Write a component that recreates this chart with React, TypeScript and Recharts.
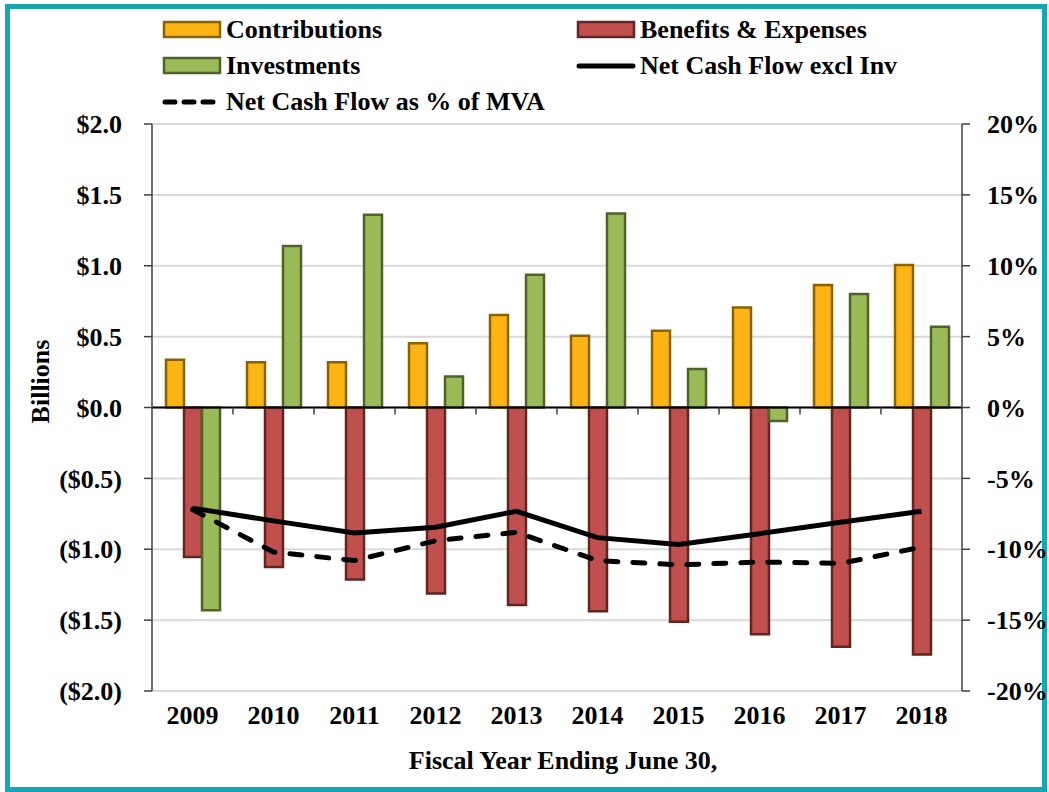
import {
  ComposedChart,
  Bar,
  Line,
  XAxis,
  YAxis,
  CartesianGrid,
  ReferenceLine,
  Legend
} from 'recharts'

const years = ['2009', '2010', '2011', '2012', '2013', '2014', '2015', '2016', '2017', '2018']
const contributions = [0.336, 0.319, 0.319, 0.453, 0.653, 0.507, 0.542, 0.706, 0.864, 1.005]
const benefits = [-1.054, -1.125, -1.213, -1.312, -1.394, -1.437, -1.512, -1.6, -1.688, -1.742]
const investments = [-1.43, 1.14, 1.36, 0.218, 0.937, 1.368, 0.272, -0.096, 0.8, 0.57]
const netCashFlow = [-0.71, -0.8, -0.885, -0.845, -0.732, -0.918, -0.967, -0.89, -0.81, -0.732]
const netCashFlowPct = [-7.2, -10.2, -10.8, -9.4, -8.8, -10.8, -11.1, -10.9, -11.0, -9.85]

const leftTicks = [-2, -1.5, -1, -0.5, 0, 0.5, 1, 1.5, 2]
const rightTicks = [-20, -15, -10, -5, 0, 5, 10, 15, 20]

const legendOrder = ['contributions', 'benefits', 'investments', 'net', 'pct']

const FONT = '"Liberation Serif", "Times New Roman", serif'

const data = years.map((year, i) => ({
  year,
  contributions: contributions[i],
  benefits: benefits[i],
  investments: investments[i],
  net: netCashFlow[i],
  pct: netCashFlowPct[i]
}))

const legendStyles: Record<string, { kind: 'bar' | 'solid' | 'dash'; fill?: string; stroke: string }> = {
  contributions: { kind: 'bar', fill: '#fdb515', stroke: '#8a6200' },
  benefits: { kind: 'bar', fill: '#c0504d', stroke: '#632523' },
  investments: { kind: 'bar', fill: '#9bbb59', stroke: '#4f6228' },
  net: { kind: 'solid', stroke: '#000' },
  pct: { kind: 'dash', stroke: '#000' }
}

function formatBillions(v: number): string {
  const s = `$${Math.abs(v).toFixed(1)}`
  return v < 0 ? `(${s})` : s
}

function LegendSwatch({ dataKey }: { dataKey: string }) {
  const st = legendStyles[dataKey]
  return (
    <svg width={60} height={20} style={{ display: 'block' }}>
      {st.kind === 'bar' && (
        <rect x={2} y={2} width={56} height={15} fill={st.fill} stroke={st.stroke} strokeWidth={2.5} />
      )}
      {st.kind === 'solid' && (
        <line x1={3} y1={10} x2={57} y2={10} stroke="#000" strokeWidth={5} strokeLinecap="round" />
      )}
      {st.kind === 'dash' && (
        <line
          x1={3}
          y1={10}
          x2={57}
          y2={10}
          stroke="#000"
          strokeWidth={5}
          strokeLinecap="round"
          strokeDasharray="10 9"
        />
      )}
    </svg>
  )
}

function CustomLegend({ payload }: any) {
  if (!payload) return null
  const items = legendOrder
    .map((k) => payload.find((p: any) => p.dataKey === k))
    .filter(Boolean)
  const cols = [162, 576]
  return (
    <div style={{ position: 'relative', width: 1049, height: 110 }}>
      {items.map((item: any, i: number) => (
        <div
          key={item.dataKey}
          style={{
            position: 'absolute',
            left: cols[i % 2],
            top: Math.floor(i / 2) * 36,
            height: 36,
            display: 'flex',
            alignItems: 'center',
            gap: 4,
            fontFamily: FONT,
            fontWeight: 'bold',
            fontSize: 26,
            color: '#000',
            whiteSpace: 'nowrap'
          }}
        >
          <LegendSwatch dataKey={item.dataKey} />
          <span>{item.value}</span>
        </div>
      ))}
    </div>
  )
}

function ZeroLine(props: any) {
  const { x1, y1, x2, y2 } = props
  const step = (x2 - x1) / years.length
  return (
    <g>
      <line x1={x1} y1={y1} x2={x2} y2={y2} stroke="#000" strokeWidth={2} />
      {years.slice(1).map((y, i) => (
        <line
          key={y}
          x1={x1 + step * (i + 1)}
          x2={x1 + step * (i + 1)}
          y1={y1}
          y2={y1 + 7}
          stroke="#404040"
          strokeWidth={1.5}
        />
      ))}
    </g>
  )
}

const tickStyle = { fontFamily: FONT, fontWeight: 'bold', fontSize: 26, fill: '#000' }

export default function App() {
  return (
    <div style={{ position: 'absolute', left: 0, top: 0, width: 1049, height: 792, background: '#fff' }}>
      <div
        style={{
          position: 'absolute',
          left: 5,
          top: 4,
          width: 1042,
          height: 788,
          border: '5px solid #17a6b4',
          boxSizing: 'border-box'
        }}
      />
      <div style={{ position: 'absolute', left: 0, top: 0 }}>
        <ComposedChart
          width={1049}
          height={792}
          data={data}
          barGap={0}
          margin={{ top: 124, right: 0, bottom: 0, left: 0 }}
        >
          <CartesianGrid yAxisId="left" vertical={false} stroke="#d9d9d9" strokeWidth={2} />
          <XAxis
            dataKey="year"
            height={101}
            axisLine={false}
            tickLine={false}
            tickSize={0}
            tickMargin={15}
            tick={tickStyle}
            interval={0}
            label={{
              content: (p: any) => {
                const vb = p.viewBox
                return (
                  <text
                    x={vb.x + vb.width / 2 + 6}
                    y={vb.y + 78}
                    textAnchor="middle"
                    style={{ fontFamily: FONT, fontWeight: 'bold', fontSize: 26 }}
                    fill="#000"
                  >
                    Fiscal Year Ending June 30,
                  </text>
                )
              }
            }}
          />
          <YAxis
            yAxisId="left"
            width={152}
            domain={[-2, 2]}
            ticks={leftTicks}
            tickFormatter={formatBillions}
            tick={tickStyle}
            tickSize={8}
            tickMargin={22}
            axisLine={{ stroke: '#404040', strokeWidth: 1.5 }}
            tickLine={{ stroke: '#404040', strokeWidth: 1.5 }}
            label={{
              content: (p: any) => {
                const vb = p.viewBox
                const cx = vb.x + 40
                const cy = vb.y + vb.height / 2 - 26
                return (
                  <text
                    x={cx}
                    y={cy}
                    transform={`rotate(-90 ${cx} ${cy})`}
                    textAnchor="middle"
                    dominantBaseline="central"
                    style={{ fontFamily: FONT, fontWeight: 'bold', fontSize: 26 }}
                    fill="#000"
                  >
                    Billions
                  </text>
                )
              }
            }}
          />
          <YAxis
            yAxisId="right"
            orientation="right"
            width={87}
            domain={[-20, 20]}
            ticks={rightTicks}
            tickFormatter={(v: number) => `${v}%`}
            tick={{ ...tickStyle, textAnchor: 'start' }}
            tickSize={8}
            tickMargin={17}
            axisLine={{ stroke: '#404040', strokeWidth: 1.5 }}
            tickLine={{ stroke: '#404040', strokeWidth: 1.5 }}
          />
          <Legend
            layout="horizontal"
            verticalAlign="middle"
            align="center"
            wrapperStyle={{ top: 12, left: 0, width: 1049 }}
            content={<CustomLegend />}
          />
          <Bar
            yAxisId="left"
            dataKey="contributions"
            name="Contributions"
            barSize={18}
            fill="#fdb515"
            stroke="#8a6200"
            strokeWidth={2.5}
            isAnimationActive={false}
          />
          <Bar
            yAxisId="left"
            dataKey="benefits"
            name="Benefits & Expenses"
            barSize={18}
            fill="#c0504d"
            stroke="#632523"
            strokeWidth={2.5}
            isAnimationActive={false}
          />
          <Bar
            yAxisId="left"
            dataKey="investments"
            name="Investments"
            barSize={18}
            fill="#9bbb59"
            stroke="#4f6228"
            strokeWidth={2.5}
            isAnimationActive={false}
          />
          <ReferenceLine yAxisId="left" y={0} shape={<ZeroLine />} />
          <Line
            yAxisId="left"
            dataKey="net"
            name="Net Cash Flow excl Inv"
            type="linear"
            stroke="#000"
            strokeWidth={5}
            dot={false}
            activeDot={false}
            isAnimationActive={false}
          />
          <Line
            yAxisId="right"
            dataKey="pct"
            name="Net Cash Flow as % of MVA"
            type="linear"
            stroke="#000"
            strokeWidth={5}
            strokeDasharray="12 15"
            strokeLinecap="round"
            dot={false}
            activeDot={false}
            isAnimationActive={false}
          />
        </ComposedChart>
      </div>
    </div>
  )
}
